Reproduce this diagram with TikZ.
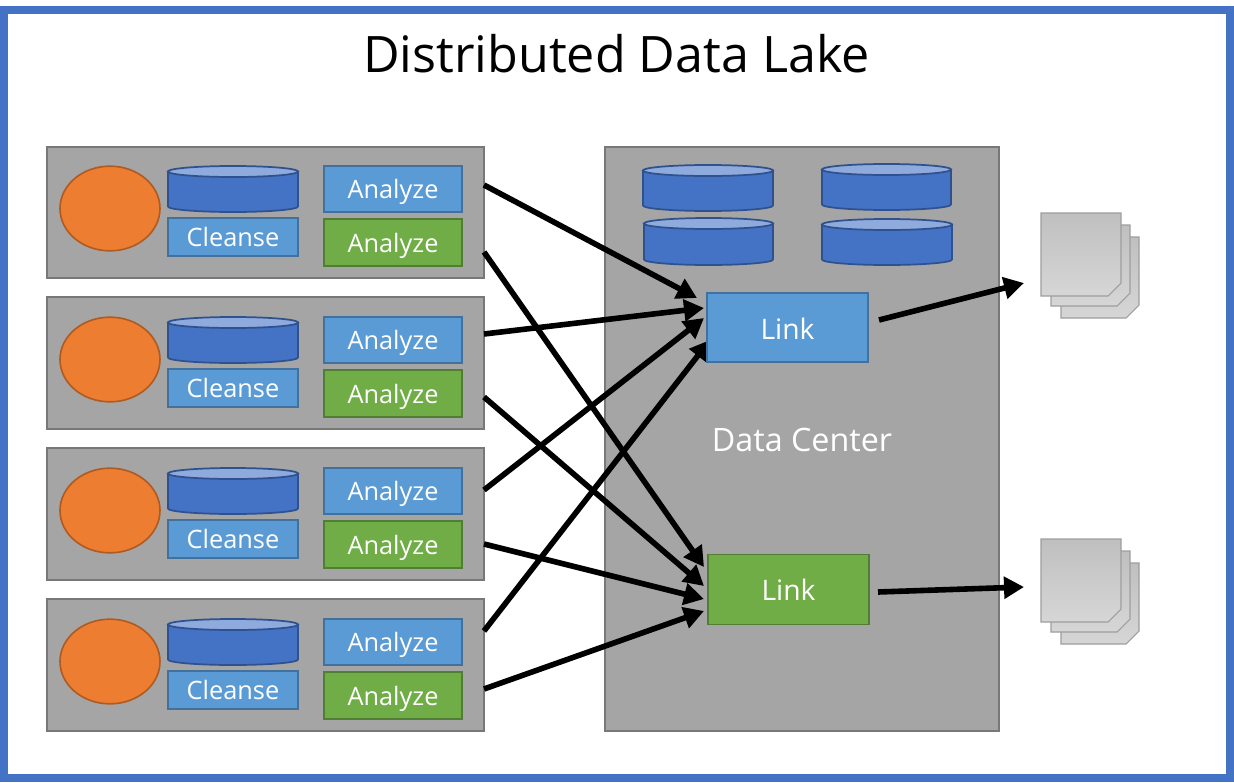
\documentclass[tikz,border=0pt]{standalone}
\usepackage{fontspec}
\setmainfont{Open Sans}
\usetikzlibrary{arrows.meta,shapes.geometric,calc}
\definecolor{frameblue}{HTML}{4472C4}
\definecolor{boxblue}{HTML}{5B9BD5}
\definecolor{boxblueline}{HTML}{41719C}
\definecolor{boxgreen}{HTML}{70AD47}
\definecolor{boxgreenline}{HTML}{507E32}
\definecolor{panel}{HTML}{A5A5A5}
\definecolor{panelline}{HTML}{787878}
\definecolor{orangefill}{HTML}{ED7D31}
\definecolor{orangeline}{HTML}{AE5A21}
\definecolor{cyltop}{HTML}{8FAADC}
\definecolor{cylline}{HTML}{2F528F}
\newcommand{\boxfont}{\fontsize{19}{21}\selectfont}
\tikzset{
  x=0.75pt,y=-0.75pt,
  panelbox/.style={draw=panelline,fill=panel,line width=1.5pt,inner sep=0,outer sep=0,anchor=north west},
  bluebox/.style={draw=boxblueline,fill=boxblue,line width=1.3pt,text=white,inner sep=0,outer sep=0,text depth=0pt,font=\boxfont},
  greenbox/.style={draw=boxgreenline,fill=boxgreen,line width=1.3pt,text=white,inner sep=0,outer sep=0,text depth=0pt,font=\boxfont},
  person/.style={draw=orangeline,fill=orangefill,line width=1.2pt,ellipse,inner sep=0,outer sep=0},
  flow/.style={black,line width=4.2pt,-{Triangle[length=15pt,width=16pt]}},
  docshape/.style={draw=black!38,line width=0.8pt,top color=black!25,bottom color=black!16},
}
% #1 left, #2 top, #3 right, #4 bottom
\newcommand{\tankshape}[4]{%
  \draw[draw=cylline,fill=frameblue,line width=1.3pt]
    (#1,#2+5.5) -- (#1,#4-5.5) arc[x radius={(#3-#1)/2},y radius=5.5,start angle=180,end angle=0]
    -- (#3,#2+5.5) -- cycle;
  \draw[draw=cylline,fill=cyltop,line width=1.3pt]
    ({(#1+#3)/2},#2+5.5) ellipse[x radius={(#3-#1)/2},y radius=5.5];
}
% #1 left, #2 top, #3 right, #4 bottom
\newcommand{\sheetshape}[4]{%
  \path[docshape] (#1,#2) -- (#3,#2) -- (#3,#4-13) -- (#3-13,#4) -- (#1,#4) -- cycle;
}
\newcommand{\docstack}[1]{%
  \sheetshape{1061}{237+#1}{1139}{318+#1}
  \sheetshape{1051}{225+#1}{1130}{306+#1}
  \sheetshape{1041}{213+#1}{1121}{296+#1}
}
% #1 name, #2 y offset, #3 panel top, #4 panel height in pt
\newcommand{\sourcerow}[4]{%
  \node[panelbox,minimum width=327.75pt,minimum height=#4pt] (panel#1) at (47,#3) {};
  \node[person,minimum width=75pt,minimum height=63.5pt] (person#1) at (110,208.5+#2) {};
  \tankshape{168}{166+#2}{298}{212+#2}
  \node[bluebox,minimum width=97.5pt,minimum height=28.5pt] (cleanse#1) at (233,237+#2) {Cleanse};
  \node[bluebox,minimum width=103.5pt,minimum height=34.5pt] (analyzeA#1) at (393,189+#2) {Analyze};
  \node[greenbox,minimum width=103.5pt,minimum height=35pt] (analyzeB#1) at (393,242.5+#2) {Analyze};
}
\begin{document}
\begin{tikzpicture}
\useasboundingbox (0,0) rectangle (1234,782);
\fill[white] (0,0) rectangle (1234,782);
\draw[frameblue,line width=6pt] (4,10) rectangle (1230,778);
\node[inner sep=0,font=\fontsize{37.7}{42}\selectfont] (title) at (616.5,54) {Distributed Data Lake};
\sourcerow{1}{0}{147}{98.25}
\sourcerow{2}{151}{297}{99}
\sourcerow{3}{302}{448}{99}
\sourcerow{4}{453}{599}{99}
\node[panelbox,minimum width=295.5pt,minimum height=438pt] (center) at (605,147) {};
\tankshape{643}{165}{773}{211}
\tankshape{822}{164}{951}{210}
\tankshape{644}{218}{773}{265}
\tankshape{822}{219}{952}{265}
\coordinate (s1) at (484,185);
\coordinate (s2) at (484,252);
\coordinate (s3) at (484,334);
\coordinate (s4) at (484,397);
\coordinate (s5) at (484,490);
\coordinate (s6) at (484,544);
\coordinate (s7) at (484,631);
\coordinate (s8) at (484,689);
\coordinate (e1) at (697,298);
\coordinate (e2) at (704,567);
\coordinate (e3) at (704,308);
\coordinate (e4) at (704,586);
\coordinate (e5) at (704,318);
\coordinate (e6) at (704,599);
\coordinate (e7) at (710,340);
\coordinate (e8) at (704,611);
\coordinate (o1) at (879,320);
\coordinate (o2) at (1024,283);
\coordinate (o3) at (878,592);
\coordinate (o4) at (1024,587);
\foreach \i in {1,...,8} \draw[flow] (s\i) -- (e\i);
\draw[flow] (o1) -- (o2);
\draw[flow] (o3) -- (o4);
\node[bluebox,minimum width=120.5pt,minimum height=51.5pt,font=\fontsize{21.2}{23}\selectfont] (linkA) at (787.5,327.5) {\raisebox{-1.2pt}{Link}};
\node[greenbox,minimum width=120.5pt,minimum height=52.5pt,font=\fontsize{21.2}{23}\selectfont] (linkB) at (788.5,589.5) {\raisebox{-0.4pt}{Link}};
\node[text=white,inner sep=0,font=\fontsize{24.2}{28}\selectfont] (dclabel) at (802,440) {Data Center};
\docstack{0}
\docstack{326}
\end{tikzpicture}
\end{document}
